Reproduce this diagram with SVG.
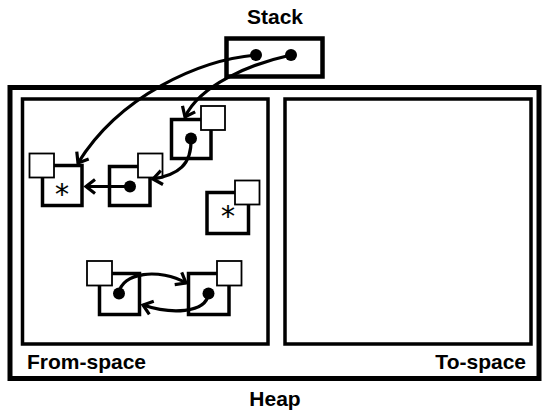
<svg xmlns="http://www.w3.org/2000/svg" width="543" height="410" viewBox="0 0 543 410">
  <style>
    .label { font-family: "Liberation Sans", Arial, Helvetica, sans-serif; font-weight: bold; font-size: 21px; fill: #000; }
    .region { fill: none; stroke: #000; stroke-width: 3.5; }
    .heap { fill: none; stroke: #000; stroke-width: 5; }
    .stack { fill: #fff; stroke: #000; stroke-width: 4.5; }
    .cell { fill: #fff; stroke: #000; stroke-width: 3.5; }
    .hdr { fill: #fff; stroke: #000; stroke-width: 1.8; }
    .dot { fill: #000; }
    .star { font-family: "DejaVu Sans", sans-serif; font-size: 28px; fill: #000; stroke: #000; stroke-width: 0.15; text-anchor: middle; }
    .ptr { fill: none; stroke: #000; stroke-width: 3.2; marker-end: url(#vhead); }
  </style>
  <defs>
    <marker id="vhead" markerUnits="userSpaceOnUse" markerWidth="24" markerHeight="24" viewBox="-12 -12 24 24" refX="0" refY="0" orient="auto" overflow="visible">
      <path d="M-9,-7 L0,0 L-9,7" fill="none" stroke="#000" stroke-width="3.2" stroke-linecap="butt" stroke-linejoin="miter"/>
    </marker>
  </defs>

  <!-- Heap with its two semispaces -->
  <g id="heap">
    <rect class="heap" x="10" y="87.5" width="529" height="291"/>
    <text class="label" x="275" y="406" text-anchor="middle">Heap</text>
  </g>
  <g id="from-space">
    <rect class="region" x="22.5" y="99" width="245.5" height="245"/>
    <text class="label" x="27" y="369">From-space</text>
  </g>
  <g id="to-space">
    <rect class="region" x="285" y="99" width="246" height="245"/>
    <text class="label" x="526" y="369" text-anchor="end">To-space</text>
  </g>

  <!-- Stack with two roots -->
  <g id="stack">
    <text class="label" x="275" y="24" text-anchor="middle">Stack</text>
    <rect class="stack" x="226.5" y="38.5" width="96" height="38"/>
  </g>

  <!-- Heap objects: body plus header cell -->
  <g id="obj-a">
    <rect class="cell" x="171.5" y="119.5" width="39.5" height="39"/>
    <rect class="hdr" x="201" y="106" width="24" height="24"/>
    <circle class="dot" cx="191" cy="138.5" r="6"/>
  </g>
  <g id="obj-b">
    <rect class="cell" x="109.5" y="166.5" width="40.5" height="39"/>
    <rect class="hdr" x="138" y="153.5" width="24.5" height="24"/>
    <circle class="dot" cx="130" cy="186.5" r="6"/>
  </g>
  <g id="obj-c">
    <rect class="cell" x="42.5" y="165.5" width="39.5" height="40"/>
    <rect class="hdr" x="29.5" y="153.5" width="24.5" height="24"/>
    <text class="star" x="62" y="203.5">*</text>
  </g>
  <g id="obj-d">
    <rect class="cell" x="207" y="192.5" width="41.5" height="41"/>
    <rect class="hdr" x="235" y="180.5" width="24.5" height="24"/>
    <text class="star" x="228" y="225.5">*</text>
  </g>
  <g id="obj-e">
    <rect class="cell" x="99.5" y="273.5" width="40" height="41"/>
    <rect class="hdr" x="87" y="261" width="25" height="24.5"/>
    <circle class="dot" cx="119" cy="293.5" r="6"/>
  </g>
  <g id="obj-f">
    <rect class="cell" x="188.5" y="273.5" width="40.5" height="41"/>
    <rect class="hdr" x="217" y="261" width="24.5" height="24.5"/>
    <circle class="dot" cx="208.5" cy="293.5" r="6"/>
  </g>

  <!-- Pointers -->
  <g id="connectors">
    <path class="ptr" d="M256,55 C200,60 120,95 78,163"/>
    <path class="ptr" d="M291,55 C250,64 200,85 185,117"/>
    <path class="ptr" d="M191,138.5 C192,165 178,175 153,179"/>
    <path class="ptr" d="M130,186.5 L86,186.5"/>
    <path class="ptr" d="M119,293.5 C121,272 160,268 186,283"/>
    <path class="ptr" d="M208.5,293.5 C206,314 170,314 143,305"/>
  </g>
  <g id="stack-roots">
    <circle class="dot" cx="256" cy="55" r="6"/>
    <circle class="dot" cx="291" cy="55" r="6"/>
  </g>
</svg>
